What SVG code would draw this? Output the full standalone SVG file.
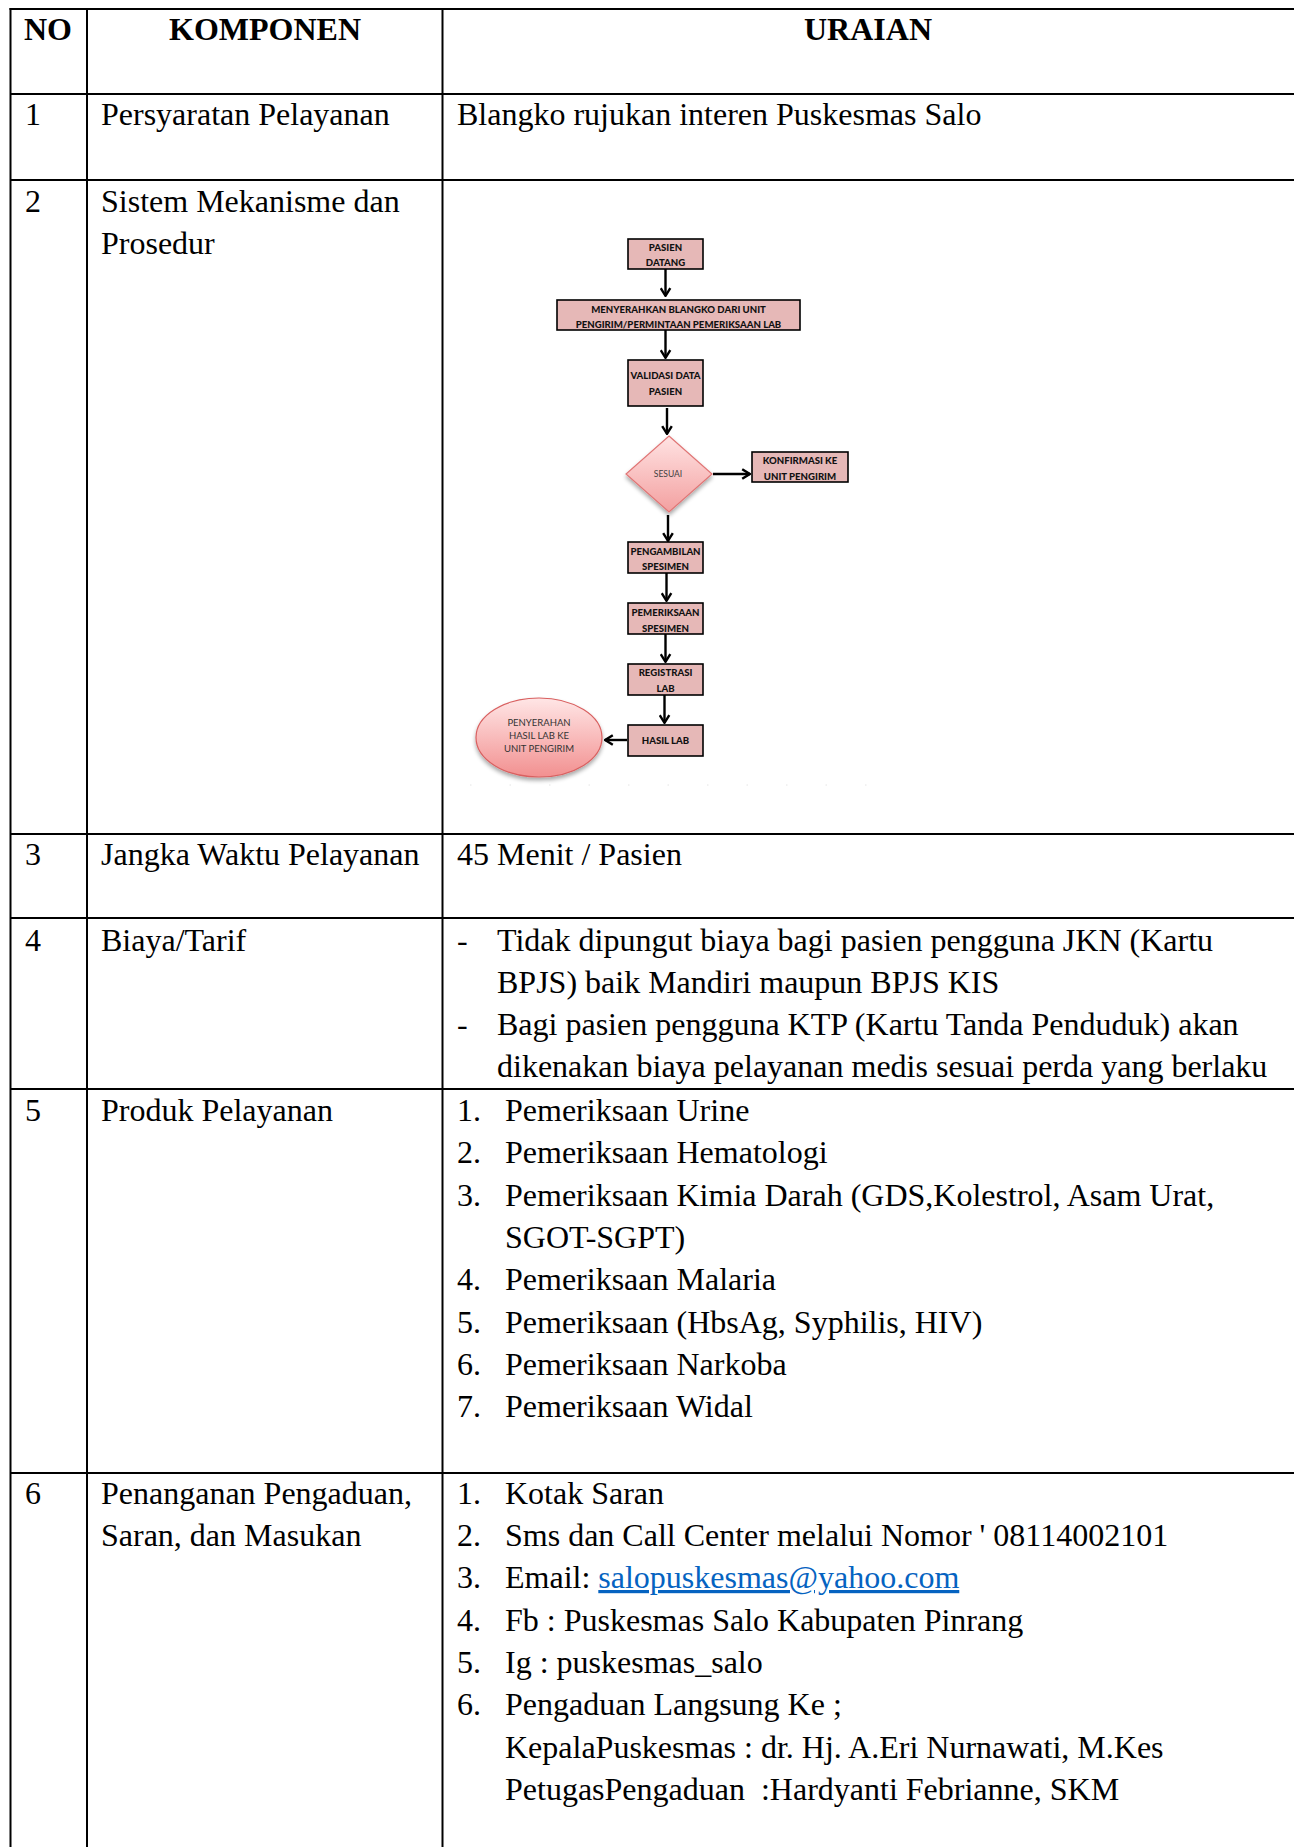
<svg xmlns="http://www.w3.org/2000/svg" width="1294" height="1847" viewBox="0 0 1294 1847">
<style>
.t{font-family:"Liberation Serif","Times New Roman",serif;font-size:32px;fill:#000}
.h{font-family:"Liberation Serif","Times New Roman",serif;font-size:32px;font-weight:bold;fill:#000}
.grid{stroke:#000;stroke-width:2;fill:none}
.box{fill:#E6B8B7;stroke:#000;stroke-width:1.6}
.bt{font-family:Lato,"Open Sans",sans-serif;font-size:9.6px;font-weight:900;fill:#111;text-anchor:middle}
.st{font-family:Lato,"Open Sans",sans-serif;font-size:8.5px;fill:#404040;text-anchor:middle}
.et{font-family:Lato,"Open Sans",sans-serif;font-size:9.5px;fill:#333;text-anchor:middle}
.arr{stroke:#000;stroke-width:2.4;fill:none;marker-end:url(#ah)}
.link{fill:#0563C1;text-decoration:underline}
</style>
<defs>
<marker id="ah" markerUnits="userSpaceOnUse" viewBox="0 0 10 12" refX="9" refY="6" markerWidth="10" markerHeight="12" orient="auto">
<path d="M1.2,1.2 L8.8,6 L1.2,10.8" fill="none" stroke="#000" stroke-width="2.4"/>
</marker>
<linearGradient id="dg" x1="0" y1="0" x2="0" y2="1">
<stop offset="0" stop-color="#FFE3E3"/>
<stop offset="1" stop-color="#F3A0A0"/>
</linearGradient>
<linearGradient id="eg" x1="0" y1="0" x2="0" y2="1">
<stop offset="0" stop-color="#FFE6E6"/>
<stop offset="1" stop-color="#F29090"/>
</linearGradient>
<filter id="sh" x="-20%" y="-20%" width="140%" height="150%">
<feGaussianBlur in="SourceAlpha" stdDeviation="2"/>
<feOffset dx="0" dy="3" result="o"/>
<feComponentTransfer><feFuncA type="linear" slope="0.35"/></feComponentTransfer>
<feMerge><feMergeNode/><feMergeNode in="SourceGraphic"/></feMerge>
</filter>
</defs>
<rect width="1294" height="1847" fill="#fff"/>

<g id="table-grid" class="grid">
<line x1="9.5" y1="9" x2="1294" y2="9"/>
<line x1="10.5" y1="94" x2="1294" y2="94"/>
<line x1="10.5" y1="180" x2="1294" y2="180"/>
<line x1="10.5" y1="834" x2="1294" y2="834"/>
<line x1="10.5" y1="918" x2="1294" y2="918"/>
<line x1="10.5" y1="1089" x2="1294" y2="1089"/>
<line x1="10.5" y1="1473" x2="1294" y2="1473"/>
<line x1="10.5" y1="8" x2="10.5" y2="1847"/>
<line x1="87" y1="8" x2="87" y2="1847"/>
<line x1="442.5" y1="8" x2="442.5" y2="1847"/>
</g>

<g id="header">
<text class="h" x="48" y="40" text-anchor="middle">NO</text>
<text class="h" x="265" y="40" text-anchor="middle">KOMPONEN</text>
<text class="h" x="868" y="40" text-anchor="middle">URAIAN</text>
</g>

<g id="row1">
<text class="t" x="25" y="125">1</text>
<text class="t" x="101" y="125">Persyaratan Pelayanan</text>
<text class="t" x="457" y="125">Blangko rujukan interen Puskesmas Salo</text>
</g>

<g id="row2">
<text class="t" x="25" y="212">2</text>
<text class="t" x="101" y="212">Sistem Mekanisme dan</text>
<text class="t" x="101" y="254">Prosedur</text>
</g>

<g id="flow-nodes">
<g id="n-pasien-datang">
<rect class="box" x="628" y="239" width="75" height="30"/>
<text class="bt" x="665.5" y="250.5">PASIEN</text>
<text class="bt" x="665.5" y="266">DATANG</text>
</g>
<g id="n-menyerahkan">
<rect class="box" x="557" y="300" width="243" height="30"/>
<text class="bt" x="678.5" y="312.5">MENYERAHKAN BLANGKO DARI UNIT</text>
<text class="bt" x="678.5" y="327.5">PENGIRIM/PERMINTAAN PEMERIKSAAN LAB</text>
</g>
<g id="n-validasi">
<rect class="box" x="628" y="360" width="75" height="46"/>
<text class="bt" x="665.5" y="379">VALIDASI DATA</text>
<text class="bt" x="665.5" y="395">PASIEN</text>
</g>
<g id="n-sesuai">
<polygon points="669,436 712,474 669,512 626,474" fill="url(#dg)" stroke="#E07575" stroke-width="1.2" filter="url(#sh)"/>
<text class="st" x="668" y="477">SESUAI</text>
</g>
<g id="n-konfirmasi">
<rect class="box" x="752" y="452" width="96" height="30"/>
<text class="bt" x="800" y="464">KONFIRMASI KE</text>
<text class="bt" x="800" y="479.5">UNIT PENGIRIM</text>
</g>
<g id="n-pengambilan">
<rect class="box" x="628" y="542" width="75" height="31"/>
<text class="bt" x="665.5" y="554.5">PENGAMBILAN</text>
<text class="bt" x="665.5" y="570">SPESIMEN</text>
</g>
<g id="n-pemeriksaan">
<rect class="box" x="628" y="603" width="75" height="31"/>
<text class="bt" x="665.5" y="616">PEMERIKSAAN</text>
<text class="bt" x="665.5" y="631.5">SPESIMEN</text>
</g>
<g id="n-registrasi">
<rect class="box" x="628" y="664" width="75" height="31"/>
<text class="bt" x="665.5" y="676">REGISTRASI</text>
<text class="bt" x="665.5" y="691.5">LAB</text>
</g>
<g id="n-hasil">
<rect class="box" x="628" y="725" width="75" height="31"/>
<text class="bt" x="665.5" y="743.5">HASIL LAB</text>
</g>
<g id="n-penyerahan">
<ellipse cx="539" cy="737.5" rx="63" ry="39.5" fill="url(#eg)" stroke="#D96060" stroke-width="1.2" filter="url(#sh)"/>
<text class="et" x="539" y="725.5">PENYERAHAN</text>
<text class="et" x="539" y="738.5">HASIL LAB KE</text>
<text class="et" x="539" y="751.5">UNIT PENGIRIM</text>
</g>
</g>

<g id="connectors">
<line class="arr" x1="665.5" y1="269" x2="665.5" y2="296"/>
<line class="arr" x1="665.5" y1="330" x2="665.5" y2="358"/>
<line class="arr" x1="667" y1="408" x2="667" y2="434"/>
<line class="arr" x1="713" y1="474" x2="750" y2="474"/>
<line class="arr" x1="668" y1="515" x2="668" y2="541"/>
<line class="arr" x1="666.5" y1="573" x2="666.5" y2="601"/>
<line class="arr" x1="665.5" y1="634" x2="665.5" y2="662"/>
<line class="arr" x1="664.5" y1="695" x2="664.5" y2="723"/>
<line class="arr" x1="627" y1="740" x2="605" y2="740"/>
</g>
<line x1="470" y1="785" x2="900" y2="785" stroke="#e4e4e4" stroke-width="1" stroke-dasharray="1.5 38"/>

<g id="row3">
<text class="t" x="25" y="865">3</text>
<text class="t" x="101" y="865">Jangka Waktu Pelayanan</text>
<text class="t" x="457" y="865">45 Menit / Pasien</text>
</g>

<g id="row4">
<text class="t" x="25" y="951">4</text>
<text class="t" x="101" y="951">Biaya/Tarif</text>
<text class="t" x="457" y="951">-</text>
<text class="t" x="497" y="951">Tidak dipungut biaya bagi pasien pengguna JKN (Kartu</text>
<text class="t" x="497" y="993">BPJS) baik Mandiri maupun BPJS KIS</text>
<text class="t" x="457" y="1035">-</text>
<text class="t" x="497" y="1035">Bagi pasien pengguna KTP (Kartu Tanda Penduduk) akan</text>
<text class="t" x="497" y="1077">dikenakan biaya pelayanan medis sesuai perda yang berlaku</text>
</g>

<g id="row5">
<text class="t" x="25" y="1121">5</text>
<text class="t" x="101" y="1121">Produk Pelayanan</text>
<text class="t" x="457" y="1121">1.</text>
<text class="t" x="505" y="1121">Pemeriksaan Urine</text>
<text class="t" x="457" y="1163">2.</text>
<text class="t" x="505" y="1163">Pemeriksaan Hematologi</text>
<text class="t" x="457" y="1206">3.</text>
<text class="t" x="505" y="1206">Pemeriksaan Kimia Darah (GDS,Kolestrol, Asam Urat,</text>
<text class="t" x="505" y="1248">SGOT-SGPT)</text>
<text class="t" x="457" y="1290">4.</text>
<text class="t" x="505" y="1290">Pemeriksaan Malaria</text>
<text class="t" x="457" y="1333">5.</text>
<text class="t" x="505" y="1333">Pemeriksaan (HbsAg, Syphilis, HIV)</text>
<text class="t" x="457" y="1375">6.</text>
<text class="t" x="505" y="1375">Pemeriksaan Narkoba</text>
<text class="t" x="457" y="1417">7.</text>
<text class="t" x="505" y="1417">Pemeriksaan Widal</text>
</g>

<g id="row6">
<text class="t" x="25" y="1504">6</text>
<text class="t" x="101" y="1504">Penanganan Pengaduan,</text>
<text class="t" x="101" y="1546">Saran, dan Masukan</text>
<text class="t" x="457" y="1504">1.</text>
<text class="t" x="505" y="1504">Kotak Saran</text>
<text class="t" x="457" y="1546">2.</text>
<text class="t" x="505" y="1546">Sms dan Call Center melalui Nomor ' 08114002101</text>
<text class="t" x="457" y="1588">3.</text>
<text class="t" x="505" y="1588">Email: <tspan class="link">salopuskesmas@yahoo.com</tspan></text>
<text class="t" x="457" y="1631">4.</text>
<text class="t" x="505" y="1631">Fb : Puskesmas Salo Kabupaten Pinrang</text>
<text class="t" x="457" y="1673">5.</text>
<text class="t" x="505" y="1673">Ig : puskesmas_salo</text>
<text class="t" x="457" y="1715">6.</text>
<text class="t" x="505" y="1715">Pengaduan Langsung Ke ;</text>
<text class="t" x="505" y="1758">KepalaPuskesmas : dr. Hj. A.Eri Nurnawati, M.Kes</text>
<text class="t" x="505" y="1800">PetugasPengaduan&#160; :Hardyanti Febrianne, SKM</text>
</g>
</svg>
